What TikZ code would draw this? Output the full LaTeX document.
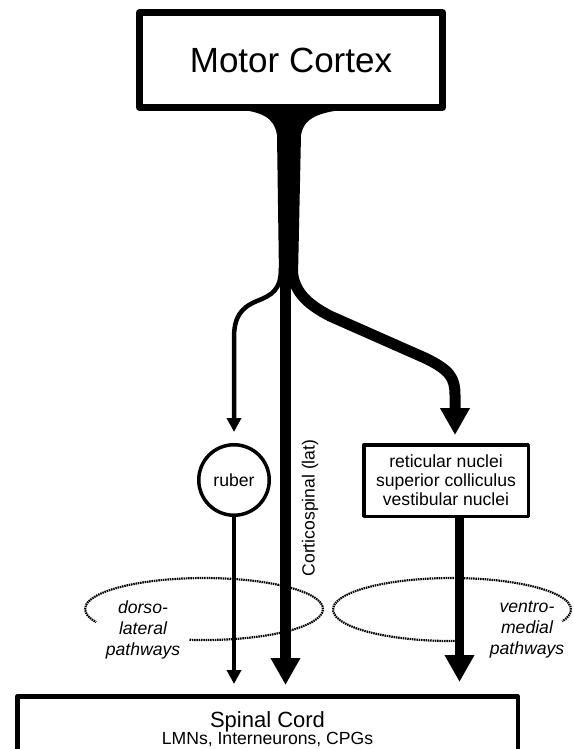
\documentclass[tikz,border=0pt]{standalone}
\usepackage{fontspec}
\setmainfont{Liberation Sans}
\usetikzlibrary{arrows.meta}

\begin{document}
\begin{tikzpicture}[x=1pt,y=-1pt,line join=round,
	fiber/.style={line width=4.5pt,-{Triangle[length=14pt,width=14pt]}},
	tract/.style={line width=10.5pt,-{Triangle[length=27pt,width=28pt]}},
	pathring/.style={line width=2.2pt,dash pattern=on 1.5pt off 0.8pt},
	small/.style={font=\fontsize{17.6pt}{19pt}\selectfont}]
	\useasboundingbox (0,0) rectangle (573,749);
	%% Cortex
	\node[draw,line width=7pt,outer sep=0pt,minimum width=303pt,minimum height=95pt,font=\fontsize{35pt}{40pt}\selectfont] (cortex) at (291,60) {Motor Cortex};
	\fill (236,109) .. controls (262,112) and (274,117) .. (277,135) -- (279,276) -- (298,276) -- (301,135) .. controls (304,118) and (318,112) .. (350,109) -- cycle;
	\coordinate (lsplit) at (281,268);
	\coordinate (cst) at (285.5,268);
	\coordinate (rsplit) at (292,268);
	\coordinate (rbend) at (455,395);
	%% Targets
	\node[draw,circle,line width=3.5pt,minimum size=70.5pt,inner sep=0pt,small] (ruber) at (234,480) {ruber};
	\node[draw,line width=3.5pt,minimum width=164.5pt,minimum height=71.5pt,inner sep=0pt,align=center,small] (reticular) at (446,480.5) {reticular nuclei\\superior colliculus\\vestibular nuclei};
	\node[draw,line width=4.5pt,anchor=north,minimum width=500.5pt,minimum height=120pt] (spinal) at (267.5,694) {};
	\node[anchor=base,inner sep=0pt,font=\fontsize{22pt}{24pt}\selectfont] (spinaltitle) at (267.5,727.5) {Spinal Cord};
	\node[anchor=base,inner sep=0pt,small] (spinalsub) at (267.5,744.5) {LMNs, Interneurons, CPGs};
	%% Pathway rings
	\draw[pathring] (189.5,639.8) arc[start angle=97,end angle=-205,x radius=119,y radius=31];
	\draw[pathring] (457,641) arc[start angle=87.6,end angle=382,x radius=119,y radius=31.5];
	\node[anchor=north,inner sep=1pt,align=center,font=\fontsize{17.6pt}{21pt}\selectfont\itshape] (dorsolat) at (143,600) {dorso-\\lateral\\pathways};
	\node[anchor=north,inner sep=1pt,align=center,font=\fontsize{17.6pt}{21pt}\selectfont\itshape] (ventromed) at (527,600) {ventro-\\medial\\pathways};
	%% Branches
	\draw[fiber,shorten >=11pt] (lsplit) .. controls (281,290) and (272,295) .. (257,301) .. controls (240,308) and (234,318) .. (234,338) -- (ruber.north);
	\draw[tract,line width=11pt,shorten >=8pt] (rsplit) .. controls (293,290) and (305,303) .. (330,316) -- (425,358) .. controls (450,370) and (455,378) .. (rbend) -- (rbend |- reticular.north);
	\draw[tract,shorten >=9pt] (cst) -- (cst |- spinal.north);
	\node[rotate=90,small] (cstlabel) at (310,508) {Corticospinal (lat)};
	%% Descending
	\draw[fiber,shorten >=10pt] (ruber.south) -- (ruber.south |- spinal.north);
	\draw[tract,line width=9.5pt,shorten >=12pt] ([xshift=13.5pt]reticular.south) -- ([xshift=13.5pt]reticular.south |- spinal.north);
\end{tikzpicture}
\end{document}
